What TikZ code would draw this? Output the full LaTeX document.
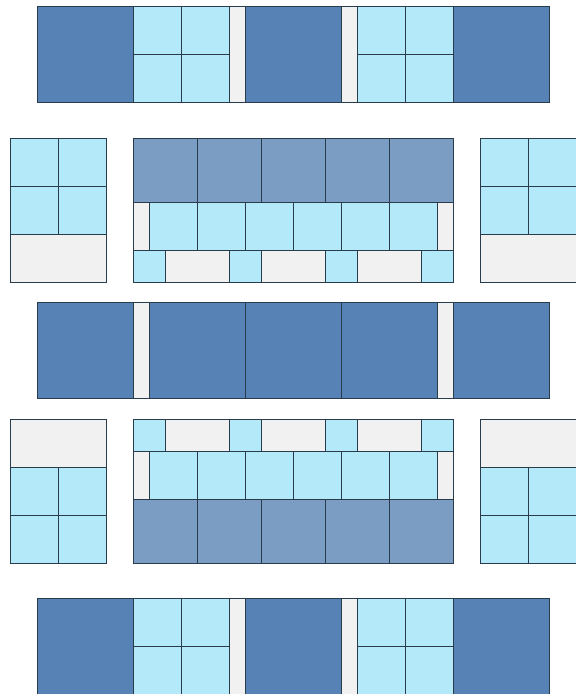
\documentclass[tikz,border=0pt]{standalone}
\usepackage{tikz}

\definecolor{tiledark}{HTML}{5682B6}
\definecolor{tilesteel}{HTML}{7B9DC3}
\definecolor{tilelight}{HTML}{B3E9F9}
\definecolor{tilewhite}{HTML}{F1F1F1}
\definecolor{grout}{HTML}{283C4C}

\begin{document}
\begin{tikzpicture}[x=1pt, y=-1pt,
    ln/.style={draw=grout, line width=0.7pt},
    dk/.style={ln, fill=tiledark},
    st/.style={ln, fill=tilesteel},
    lt/.style={ln, fill=tilelight},
    wh/.style={ln, fill=tilewhite}]
  \useasboundingbox (0,0) rectangle (576,694);

  % top and bottom bands
  \foreach \y in {6,598} {
    \draw[dk] (37,\y) rectangle ++(96,96);
    \draw[dk] (245,\y) rectangle ++(96,96);
    \draw[dk] (453,\y) rectangle ++(96,96);
    \draw[wh] (229,\y) rectangle ++(16,96);
    \draw[wh] (341,\y) rectangle ++(16,96);
    \foreach \x in {133,357} {
      \draw[lt] (\x,\y) rectangle ++(96,96);
      \draw[ln] (\x+48,\y) -- ++(0,96) (\x,\y+48) -- ++(96,0);
    }
  }

  % middle band
  \draw[dk] (37,302) rectangle ++(96,96);
  \draw[wh] (133,302) rectangle ++(16,96);
  \foreach \x in {149,245,341}
    \draw[dk] (\x,302) rectangle ++(96,96);
  \draw[wh] (437,302) rectangle ++(16,96);
  \draw[dk] (453,302) rectangle ++(96,96);

  % side blocks
  \foreach \x in {10,480} {
    \draw[lt] (\x,138) rectangle ++(96,96);
    \draw[ln] (\x+48,138) -- ++(0,96) (\x,186) -- ++(96,0);
    \draw[wh] (\x,234) rectangle ++(96,48);
    \draw[wh] (\x,419) rectangle ++(96,48);
    \draw[lt] (\x,467) rectangle ++(96,96);
    \draw[ln] (\x+48,467) -- ++(0,96) (\x,515) -- ++(96,0);
  }

  % centre panels
  \foreach \x in {133,197,...,389} {
    \draw[st] (\x,138) rectangle ++(64,64);
    \draw[st] (\x,499) rectangle ++(64,64);
  }
  \foreach \y in {202,451} {
    \draw[wh] (133,\y) rectangle ++(16,48);
    \draw[wh] (437,\y) rectangle ++(16,48);
    \foreach \x in {149,197,...,389}
      \draw[lt] (\x,\y) rectangle ++(48,48);
  }
  \foreach \y in {250,419} {
    \foreach \x in {133,229,325,421}
      \draw[lt] (\x,\y) rectangle ++(32,32);
    \foreach \x in {165,261,357}
      \draw[wh] (\x,\y) rectangle ++(64,32);
  }
\end{tikzpicture}
\end{document}
